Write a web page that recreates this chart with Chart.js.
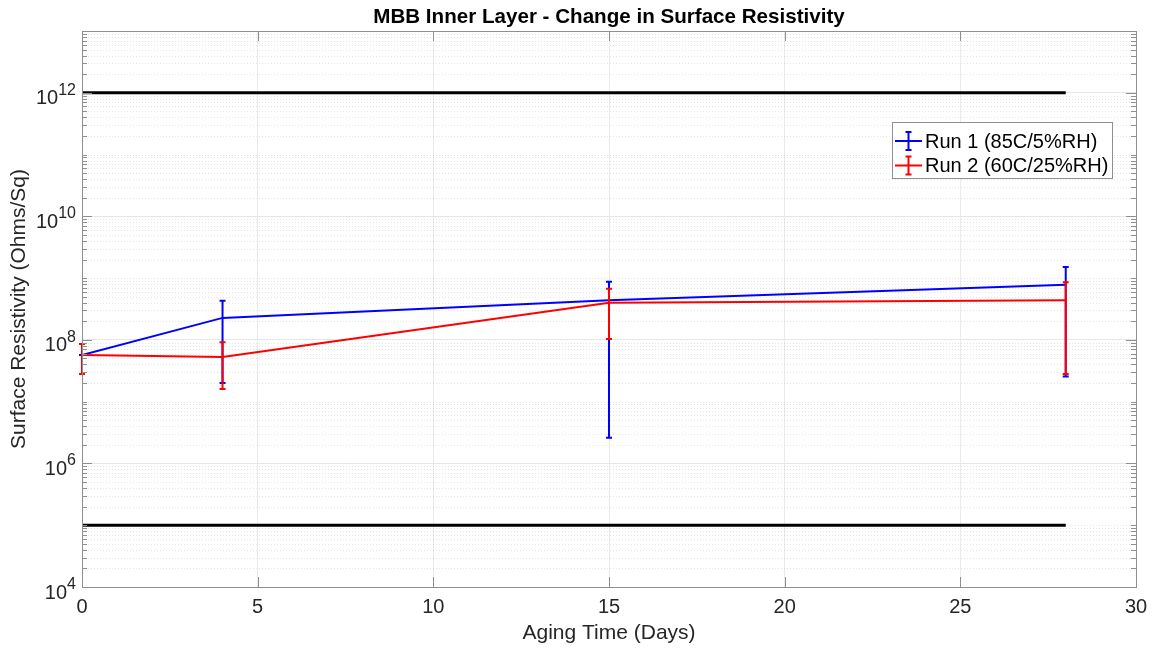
<!DOCTYPE html>
<html lang="en">
<head>
<meta charset="UTF-8">
<title>MBB Inner Layer - Change in Surface Resistivity</title>
<script src="https://cdn.jsdelivr.net/npm/chart.js"></script>
<style>
  html, body { margin: 0; padding: 0; background: #fff; }
  #wrap { width: 1160px; height: 652px; }
</style>
</head>
<body>
<div id="wrap"><canvas id="chart" width="1160" height="652"></canvas></div>
<script>
// data
const days = [0, 4, 15, 28];
const run1 = [5.7e7, 2.27e8, 4.4e8, 7.8e8];
const run1Low = [5.7e7, 2.0e7, 2.6e6, 2.55e7];
const run1High = [5.7e7, 4.3e8, 8.7e8, 1.52e9];
const run2 = [5.7e7, 5.3e7, 4.0e8, 4.4e8];
const run2Low = [2.8e7, 1.6e7, 1.03e8, 2.8e7];
const run2High = [8.6e7, 9.2e7, 6.7e8, 8.6e8];
const limitDays = [0, 28];
const upperLimit = [1e12, 1e12];
const lowerLimit = [1e5, 1e5];
const xTicks = [0, 5, 10, 15, 20, 25, 30];
const yLabelExps = [4, 6, 8, 10, 12];

const FONT = '"Liberation Sans", Arial, sans-serif';
const TXT = '#262626';
const BOX = '#8f8f8f';

const pts = (xs, ys) => xs.map((x, i) => ({ x: x, y: ys[i] }));

// all log ticks 1..9 x 10^n between 1e4 and 1e13
function logTicks() {
  const out = [];
  for (let e = 4; e < 13; e++) {
    for (let m = 1; m < 10; m++) out.push({ value: m * Math.pow(10, e) });
  }
  out.push({ value: 1e13 });
  return out;
}
function isMajor(v) {
  const e = Math.log10(v);
  return Math.abs(e - Math.round(e)) < 1e-9 && Math.round(e) % 2 === 0;
}

const decor = {
  id: 'decor',
  beforeDatasetsDraw(chart) {
    const { ctx, chartArea: a, scales: { y } } = chart;
    ctx.save();
    ctx.strokeStyle = 'rgba(0,0,0,0.1)';
    ctx.lineWidth = 1;
    ctx.setLineDash([1, 2]);
    y.ticks.forEach(t => {
      if (isMajor(t.value) || t.value >= 1e13) return;
      const py = Math.round(y.getPixelForValue(t.value)) + 0.5;
      ctx.beginPath();
      ctx.moveTo(a.left, py);
      ctx.lineTo(a.right, py);
      ctx.stroke();
    });
    ctx.restore();
  },
  afterDatasetDraw(chart, args) {
    const ds = chart.data.datasets[args.index];
    if (!ds.errLow) return;
    const { ctx, scales: { x, y } } = chart;
    ctx.save();
    ctx.strokeStyle = ds.borderColor;
    ctx.lineWidth = 2;
    ds.data.forEach((p, i) => {
      const px = x.getPixelForValue(p.x);
      const lo = y.getPixelForValue(ds.errLow[i]);
      const hi = y.getPixelForValue(ds.errHigh[i]);
      ctx.beginPath();
      ctx.moveTo(px, lo); ctx.lineTo(px, hi);
      ctx.moveTo(px - 3, lo); ctx.lineTo(px + 3, lo);
      ctx.moveTo(px - 3, hi); ctx.lineTo(px + 3, hi);
      ctx.stroke();
    });
    ctx.restore();
  },
  afterDraw(chart) {
    const { ctx, chartArea: a, scales: { x, y } } = chart;
    ctx.save();
    // inward ticks
    ctx.strokeStyle = BOX;
    ctx.lineWidth = 1;
    ctx.beginPath();
    y.ticks.forEach(t => {
      const py = Math.round(y.getPixelForValue(t.value)) + 0.5;
      const len = isMajor(t.value) ? 10 : 5;
      ctx.moveTo(a.left, py); ctx.lineTo(a.left + len, py);
      ctx.moveTo(a.right, py); ctx.lineTo(a.right - len, py);
    });
    x.ticks.forEach(t => {
      const px = Math.round(x.getPixelForValue(t.value)) + 0.5;
      ctx.moveTo(px, a.bottom); ctx.lineTo(px, a.bottom - 10);
      ctx.moveTo(px, a.top); ctx.lineTo(px, a.top + 10);
    });
    ctx.stroke();
    // box
    ctx.strokeRect(Math.round(a.left) + 0.5, Math.round(a.top) + 0.5,
      Math.round(a.right - a.left), Math.round(a.bottom - a.top));

    // y tick labels 10^n
    ctx.fillStyle = TXT;
    ctx.textBaseline = 'alphabetic';
    yLabelExps.forEach(e => {
      const py = y.getPixelForValue(Math.pow(10, e));
      ctx.font = '16px ' + FONT;
      ctx.textAlign = 'right';
      const sup = String(e);
      const w = ctx.measureText(sup).width;
      ctx.fillText(sup, a.left - 6, py + 2);
      ctx.font = '20px ' + FONT;
      ctx.fillText('10', a.left - 6 - w, py + 11.5);
    });

    // title
    ctx.fillStyle = '#000';
    ctx.font = 'bold 20.6px ' + FONT;
    ctx.textAlign = 'center';
    ctx.textBaseline = 'middle';
    ctx.fillText('MBB Inner Layer - Change in Surface Resistivity', (a.left + a.right) / 2, 17.5);

    // legend
    const lx = 892, ly = 122, lw = 220, lh = 56;
    ctx.fillStyle = '#fff';
    ctx.fillRect(lx, ly, lw, lh);
    ctx.strokeStyle = BOX;
    ctx.strokeRect(lx + 0.5, ly + 0.5, lw, lh);
    const entries = chart.data.datasets.filter(d => d.errLow);
    entries.forEach((d, i) => {
      const cy = 141 + i * 24.5;
      ctx.strokeStyle = d.borderColor;
      ctx.lineWidth = 2;
      ctx.beginPath();
      ctx.moveTo(895, cy); ctx.lineTo(922, cy);
      ctx.moveTo(908.5, cy - 9); ctx.lineTo(908.5, cy + 9);
      ctx.moveTo(905.5, cy - 9); ctx.lineTo(911.5, cy - 9);
      ctx.moveTo(905.5, cy + 9); ctx.lineTo(911.5, cy + 9);
      ctx.stroke();
      ctx.fillStyle = '#000';
      ctx.font = '20px ' + FONT;
      ctx.textAlign = 'left';
      ctx.textBaseline = 'middle';
      ctx.fillText(d.label, 925, cy + 1);
    });
    ctx.restore();
  }
};

new Chart(document.getElementById('chart'), {
  type: 'line',
  data: {
    datasets: [
      { label: 'Run 1 (85C/5%RH)', data: pts(days, run1), errLow: run1Low, errHigh: run1High,
        borderColor: '#0000ff', borderWidth: 2, pointRadius: 0, order: 2 },
      { label: 'Run 2 (60C/25%RH)', data: pts(days, run2), errLow: run2Low, errHigh: run2High,
        borderColor: '#ff0000', borderWidth: 2, pointRadius: 0, order: 1 },
      { label: 'Upper', data: pts(limitDays, upperLimit), borderColor: '#000', borderWidth: 3,
        pointRadius: 0, order: 3 },
      { label: 'Lower', data: pts(limitDays, lowerLimit), borderColor: '#000', borderWidth: 3,
        pointRadius: 0, order: 3 }
    ]
  },
  options: {
    responsive: false,
    animation: false,
    devicePixelRatio: 1,
    layout: { padding: { top: 31, right: 24, left: 0, bottom: 0 } },
    plugins: { legend: { display: false }, tooltip: { enabled: false } },
    scales: {
      x: {
        type: 'linear', min: 0, max: 30,
        afterBuildTicks: s => { s.ticks = xTicks.map(v => ({ value: v })); },
        afterFit: s => { s.height = 65; },
        ticks: { color: TXT, font: { family: FONT, size: 20 }, padding: 8, maxRotation: 0 },
        grid: { color: '#ebebeb', drawTicks: false },
        border: { display: false },
        title: { display: true, text: 'Aging Time (Days)', color: TXT,
          font: { family: FONT, size: 21 }, padding: { top: 0, bottom: 6 } }
      },
      y: {
        type: 'logarithmic', min: 1e4, max: 1e13,
        afterBuildTicks: s => { s.ticks = logTicks(); },
        afterFit: s => { s.width = 82; },
        ticks: { display: false },
        grid: { color: c => isMajor(c.tick.value) ? '#e6e6e6' : 'rgba(0,0,0,0)', drawTicks: false },
        border: { display: false },
        title: { display: true, text: 'Surface Resistivity (Ohms/Sq)', color: TXT,
          font: { family: FONT, size: 21 }, padding: { top: 7, bottom: 0 } }
      }
    }
  },
  plugins: [decor]
});
</script>
</body>
</html>
